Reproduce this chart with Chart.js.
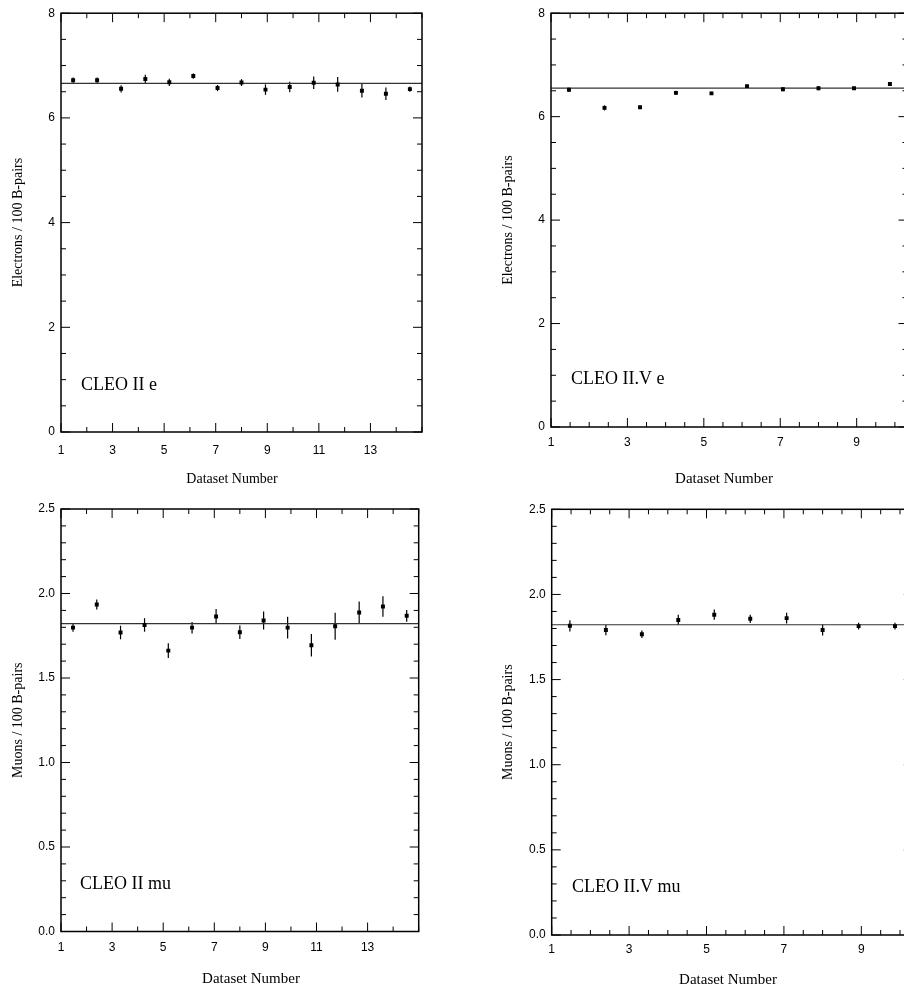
<!DOCTYPE html>
<html>
<head>
<meta charset="utf-8">
<title>CLEO lepton yields per dataset</title>
<script src="https://cdn.jsdelivr.net/npm/chart.js@4.4.1/dist/chart.umd.min.js"></script>
<style>
  html, body { margin: 0; padding: 0; background: #fff; width: 904px; height: 992px; overflow: hidden; }
  canvas { position: absolute; }
</style>
</head>
<body>
<canvas id="chart-e2"   width="445" height="495" style="left:0;top:0"></canvas>
<canvas id="chart-e25"  width="430" height="495" style="left:490px;top:0"></canvas>
<canvas id="chart-mu2"  width="445" height="497" style="left:0;top:495px"></canvas>
<canvas id="chart-mu25" width="430" height="497" style="left:490px;top:495px"></canvas>
<script>
// dataset positions (same spacing in every panel)
const xCleo2 = [1.47, 2.40, 3.33, 4.27, 5.20, 6.13, 7.07, 8.00, 8.93, 9.87, 10.80, 11.73, 12.67, 13.60, 14.53];
const xCleo25 = [1.47, 2.40, 3.33, 4.27, 5.20, 6.13, 7.07, 8.00, 8.93, 9.87];

// electrons / 100 B-pairs
const yE2 = [6.72, 6.72, 6.555, 6.745, 6.68, 6.80, 6.57, 6.675, 6.54, 6.59, 6.67, 6.64, 6.52, 6.46, 6.55];
const errE2 = [0.05, 0.05, 0.07, 0.08, 0.07, 0.05, 0.06, 0.065, 0.10, 0.10, 0.12, 0.14, 0.13, 0.12, 0.05];
const fitE2 = 6.66;

const yE25 = [6.52, 6.17, 6.18, 6.46, 6.45, 6.59, 6.53, 6.55, 6.55, 6.63];
const errE25 = [0.04, 0.05, 0.03, 0.04, 0.03, 0.02, 0.04, 0.04, 0.02, 0.02];
const fitE25 = 6.55;

// muons / 100 B-pairs
const yMu2 = [1.798, 1.935, 1.769, 1.814, 1.662, 1.798, 1.864, 1.771, 1.840, 1.798, 1.694, 1.806, 1.887, 1.923, 1.868];
const errMu2 = [0.025, 0.03, 0.04, 0.04, 0.043, 0.034, 0.045, 0.04, 0.053, 0.064, 0.067, 0.08, 0.066, 0.061, 0.035];
const fitMu2 = 1.822;

const yMu25 = [1.816, 1.791, 1.766, 1.850, 1.881, 1.857, 1.861, 1.791, 1.814, 1.814];
const errMu25 = [0.033, 0.03, 0.022, 0.03, 0.03, 0.024, 0.032, 0.032, 0.02, 0.02];
const fitMu25 = 1.822;

// tick labels
const xTicksCleo2 = [1, 3, 5, 7, 9, 11, 13];
const xTicksCleo25 = [1, 3, 5, 7, 9];
const yTicksE = [0, 2, 4, 6, 8];
const yTicksMu = [0, 0.5, 1.0, 1.5, 2.0, 2.5];

const SANS = '"Liberation Sans", Arial, sans-serif';
const SERIF = '"Liberation Serif", "Times New Roman", serif';

// frame with inward ticks on all four sides
const frameTicks = {
    id: 'frameTicks',
    afterDraw(chart, args, opts) {
        const { ctx, chartArea: a, scales: { x, y } } = chart;
        const line = (x1, y1, x2, y2) => { ctx.beginPath(); ctx.moveTo(x1, y1); ctx.lineTo(x2, y2); ctx.stroke(); };
        ctx.save();
        ctx.strokeStyle = '#000';
        ctx.lineWidth = 1;

        const steps = (min, max, step) => {
            const out = [];
            const n = Math.round((max - min) / step);
            for (let i = 0; i <= n; i++) out.push(min + i * step);
            return out;
        };
        const isMajor = (v, list) => list.some(m => Math.abs(m - v) < 1e-6);

        steps(x.min, x.max, opts.xMinor).forEach(v => {
            const len = isMajor(v, opts.xMajor) ? 9 : 5;
            const px = x.getPixelForValue(v);
            line(px, a.bottom, px, a.bottom - len);
            line(px, a.top, px, a.top + len);
        });
        steps(y.min, y.max, opts.yMinor).forEach(v => {
            const len = isMajor(v, opts.yMajor) ? 9 : 5;
            const py = y.getPixelForValue(v);
            line(a.left, py, a.left + len, py);
            line(a.right, py, a.right - len, py);
        });

        ctx.lineWidth = 1.5;
        ctx.strokeRect(a.left, a.top, a.right - a.left, a.bottom - a.top);
        ctx.restore();
    }
};

// vertical error bars for the first dataset
const errorBars = {
    id: 'errorBars',
    beforeDatasetsDraw(chart) {
        const { ctx, scales: { x, y } } = chart;
        const ds = chart.data.datasets[0];
        ctx.save();
        ctx.strokeStyle = '#000';
        ctx.lineWidth = 1.2;
        ds.data.forEach((p, i) => {
            const e = ds.errors[i];
            const px = x.getPixelForValue(p.x);
            ctx.beginPath();
            ctx.moveTo(px, y.getPixelForValue(p.y - e));
            ctx.lineTo(px, y.getPixelForValue(p.y + e));
            ctx.stroke();
        });
        ctx.restore();
    }
};

// x title and panel name
const panelText = {
    id: 'panelText',
    afterDraw(chart, args, opts) {
        const ctx = chart.ctx;
        ctx.save();
        ctx.fillStyle = '#000';
        ctx.textBaseline = 'alphabetic';
        opts.items.forEach(t => {
            ctx.font = `${t.size}px ${SERIF}`;
            ctx.textAlign = t.align;
            ctx.fillText(t.text, t.x, t.y);
        });
        ctx.restore();
    }
};

function makePanel(id, p) {
    const points = p.xs.map((x, i) => ({ x: x, y: p.ys[i] }));
    return new Chart(document.getElementById(id), {
        type: 'scatter',
        data: {
            datasets: [
                {
                    data: points,
                    errors: p.errs,
                    pointStyle: 'rect',
                    pointRadius: 2.8,
                    backgroundColor: '#000',
                    borderColor: '#000',
                    borderWidth: 0
                },
                {
                    data: [{ x: 1, y: p.fit }, { x: p.xMax, y: p.fit }],
                    showLine: true,
                    pointRadius: 0,
                    borderColor: '#333',
                    borderWidth: 1.2
                }
            ]
        },
        options: {
            responsive: false,
            animation: false,
            devicePixelRatio: 1,
            events: [],
            layout: { padding: { left: 0, top: p.top, right: p.right, bottom: 0 } },
            scales: {
                x: {
                    type: 'linear',
                    min: 1,
                    max: p.xMax,
                    afterBuildTicks: s => { s.ticks = p.xTicks.map(v => ({ value: v })); },
                    afterFit: s => { s.height = p.xHeight; },
                    grid: { display: false, drawTicks: false },
                    border: { display: false },
                    ticks: {
                        padding: p.xPad,
                        maxRotation: 0,
                        autoSkip: false,
                        color: '#000',
                        font: { family: SANS, size: 12 },
                        callback: v => String(v)
                    }
                },
                y: {
                    type: 'linear',
                    min: 0,
                    max: p.yMax,
                    afterBuildTicks: s => { s.ticks = p.yTicks.map(v => ({ value: v })); },
                    afterFit: s => { s.width = p.yWidth; },
                    grid: { display: false, drawTicks: false },
                    border: { display: false },
                    ticks: {
                        padding: 6,
                        color: '#000',
                        font: { family: SANS, size: 12 },
                        callback: v => v.toFixed(p.yDec)
                    },
                    title: {
                        display: true,
                        text: p.yTitle,
                        color: '#000',
                        font: { family: SERIF, size: 14 },
                        padding: { top: 10, bottom: 0 }
                    }
                }
            },
            plugins: {
                legend: { display: false },
                tooltip: { enabled: false },
                frameTicks: { xMajor: p.xTicks, xMinor: p.xMinor, yMajor: p.yTicks, yMinor: p.yMinor },
                panelText: { items: p.texts }
            }
        },
        plugins: [errorBars, frameTicks, panelText]
    });
}

makePanel('chart-e2', {
    xs: xCleo2, ys: yE2, errs: errE2, fit: fitE2,
    xMax: 15, xTicks: xTicksCleo2, xMinor: 1,
    yMax: 8, yTicks: yTicksE, yMinor: 0.5, yDec: 0,
    yTitle: 'Electrons / 100 B-pairs',
    top: 8, right: 23, yWidth: 61, xHeight: 63, xPad: 11,
    texts: [
        { text: 'Dataset Number', x: 232, y: 483, size: 14, align: 'center' },
        { text: 'CLEO II e', x: 81, y: 390, size: 18, align: 'left' }
    ]
});

makePanel('chart-e25', {
    xs: xCleo25, ys: yE25, errs: errE25, fit: fitE25,
    xMax: 10.33, xTicks: xTicksCleo25, xMinor: 0.5,
    yMax: 8, yTicks: yTicksE, yMinor: 0.5, yDec: 0,
    yTitle: 'Electrons / 100 B-pairs',
    top: 7, right: 12.5, yWidth: 61, xHeight: 68, xPad: 8,
    texts: [
        { text: 'Dataset Number', x: 234, y: 483, size: 15, align: 'center' },
        { text: 'CLEO II.V e', x: 81, y: 384, size: 18, align: 'left' }
    ]
});

makePanel('chart-mu2', {
    xs: xCleo2, ys: yMu2, errs: errMu2, fit: fitMu2,
    xMax: 15, xTicks: xTicksCleo2, xMinor: 1,
    yMax: 2.5, yTicks: yTicksMu, yMinor: 0.1, yDec: 1,
    yTitle: 'Muons / 100 B-pairs',
    top: 14, right: 26.3, yWidth: 61, xHeight: 60.5, xPad: 9,
    texts: [
        { text: 'Dataset Number', x: 251, y: 488, size: 15, align: 'center' },
        { text: 'CLEO II mu', x: 80, y: 394, size: 18, align: 'left' }
    ]
});

makePanel('chart-mu25', {
    xs: xCleo25, ys: yMu25, errs: errMu25, fit: fitMu25,
    xMax: 10.33, xTicks: xTicksCleo25, xMinor: 0.5,
    yMax: 2.5, yTicks: yTicksMu, yMinor: 0.1, yDec: 1,
    yTitle: 'Muons / 100 B-pairs',
    top: 14.3, right: 7.2, yWidth: 61.7, xHeight: 57, xPad: 7,
    texts: [
        { text: 'Dataset Number', x: 238, y: 489, size: 15, align: 'center' },
        { text: 'CLEO II.V mu', x: 82, y: 396.5, size: 18, align: 'left' }
    ]
});
</script>
</body>
</html>
